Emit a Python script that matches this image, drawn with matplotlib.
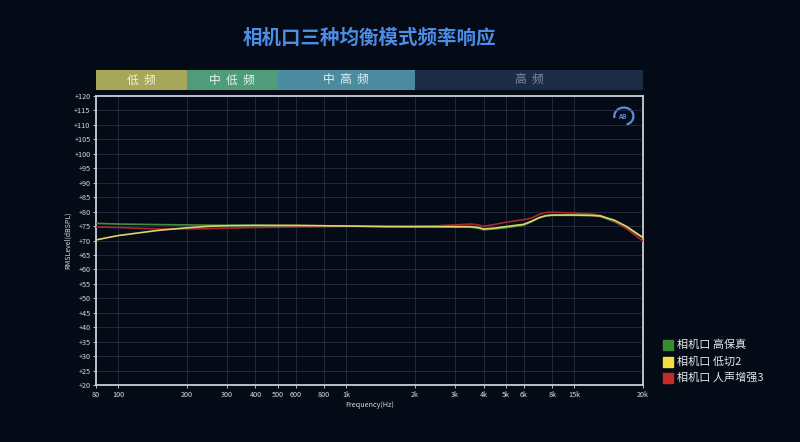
import matplotlib
matplotlib.use("Agg")
import matplotlib.pyplot as plt
from matplotlib.patches import Rectangle, Arc

plt.rcParams['font.family'] = ['Noto Sans CJK SC', 'DejaVu Sans']

# ---------------- data ----------------
freq = [80, 90, 100, 125, 150, 200, 250, 300, 400, 500, 600, 800, 1000, 1500,
        2000, 2500, 3000, 3500, 3800, 4000, 4500, 5000, 6000, 6500, 7000, 7500,
        8000, 10000, 12000, 13000, 15000, 17000, 20000]

hifi = [75.9, 75.8, 75.7, 75.6, 75.5, 75.4, 75.3, 75.3, 75.3, 75.2, 75.2, 75.1,
        75.0, 74.8, 74.7, 74.7, 74.6, 74.6, 74.2, 73.7, 74.0, 74.4, 75.3, 76.5,
        77.8, 78.5, 78.7, 78.7, 78.6, 78.3, 76.5, 74.2, 71.0]

lowcut = [70.2, 71.0, 71.7, 72.7, 73.5, 74.4, 74.9, 75.1, 75.2, 75.2, 75.2, 75.1,
          75.0, 74.8, 74.8, 74.8, 74.8, 74.8, 74.5, 74.0, 74.3, 74.8, 75.6, 76.7,
          77.9, 78.6, 78.8, 78.8, 78.7, 78.5, 77.0, 74.8, 71.0]

vocal = [74.7, 74.6, 74.5, 74.2, 74.0, 74.0, 74.1, 74.3, 74.5, 74.6, 74.7, 74.8,
         74.9, 75.0, 75.0, 75.1, 75.4, 75.7, 75.4, 74.9, 75.6, 76.3, 77.2, 77.8,
         79.0, 79.7, 79.8, 79.5, 79.1, 78.7, 76.8, 74.0, 69.8]

series_names = ["相机口 高保真", "相机口 低切2", "相机口 人声增强3"]
series_colors = ["#4a8a3a", "#dcd46a", "#a02a30"]
legend_colors = ["#3a8a34", "#f2e040", "#c42a2a"]

xtick_pos = [80, 100, 200, 300, 400, 500, 600, 800, 1000, 2000, 3000, 4000,
             5000, 6000, 8000, 10000, 20000]
xtick_lab = ["80", "100", "200", "300", "400", "500", "600", "800", "1k", "2k",
             "3k", "4k", "5k", "6k", "8k", "15k", "20k"]
yticks = list(range(20, 121, 5))

bands = [("低  频", 80, 200, "#a7a65a", "#f4f2d8"),
         ("中  低  频", 200, 500, "#4e9c7c", "#e8f4ee"),
         ("中  高  频", 500, 2000, "#4a8c9e", "#e4f0f4"),
         ("高  频", 2000, 20000, "#1b2c47", "#7f8aa0")]

title = "相机口三种均衡模式频率响应"

# ---------------- figure ----------------
bg = "#050a17"
fig = plt.figure(figsize=(8, 4.42), dpi=100, facecolor=bg)

L, R = 96 / 800, 643 / 800
B, T = 1 - 385 / 442, 1 - 96 / 442
ax = fig.add_axes([L, B, R - L, T - B], facecolor=bg)

for vals, c in [(hifi, series_colors[0]), (vocal, series_colors[2]), (lowcut, series_colors[1])]:
    ax.plot(freq, vals, color=c, lw=1.2, solid_capstyle='round', zorder=3)

ax.set_xscale('log')
ax.set_xlim(80, 20000)
ax.set_ylim(20, 120)
ax.set_xticks(xtick_pos)
ax.set_xticklabels(xtick_lab)
ax.xaxis.set_minor_locator(matplotlib.ticker.NullLocator())
ax.set_yticks(yticks)
ax.set_yticklabels(["+%d" % v for v in yticks])
ax.tick_params(axis='both', colors="#d8dce4", labelsize=5.2, length=2, width=0.6, pad=2)
ax.grid(True, color="#2a3446", lw=0.6, alpha=0.9)
for s in ax.spines.values():
    s.set_color("#c9ced8")
    s.set_linewidth(1.3)
ax.set_xlabel("Frequency(Hz)", color="#d8dce4", fontsize=5.2, labelpad=2)
ax.set_ylabel("RMSLevel(dBSPL)", color="#d8dce4", fontsize=5.0, labelpad=2)

# logo
ax.add_patch(Arc((0.965, 0.93), 0.035, 0.06, theta1=-80, theta2=200,
                 transform=ax.transAxes, color="#5a8fe0", lw=1.6))
ax.text(0.962, 0.93, "AB", transform=ax.transAxes, color="#5a8fe0",
        fontsize=4.5, ha='center', va='center', fontweight='bold')

# band axes
bax = fig.add_axes([L, 1 - 90 / 442, R - L, 20 / 442], facecolor=bg)
bax.set_xscale('log')
bax.set_xlim(80, 20000)
bax.set_ylim(0, 1)
bax.axis('off')
for lab, x0, x1, fc, tc in bands:
    bax.axvspan(x0, x1, color=fc, lw=0)
    xm = (x0 * x1) ** 0.5
    bax.text(xm, 0.5, lab, color=tc, fontsize=8.5, ha='center', va='center')

fig.text((L + R) / 2, 1 - 38 / 442, title, color="#4d8de6", fontsize=14,
         ha='center', va='center', fontweight='bold')

# legend
for i, (name, c) in enumerate(zip(series_names, legend_colors)):
    yc = 1 - (345 + i * 16.5) / 442
    fig.patches.append(Rectangle((663 / 800, yc - 5 / 442), 10 / 800, 10 / 442,
                                 transform=fig.transFigure, color=c, figure=fig))
    fig.text(677 / 800, yc, name, color="#e4e6ea", fontsize=8, ha='left', va='center')

fig.savefig("out.png", dpi=100, facecolor=bg)
